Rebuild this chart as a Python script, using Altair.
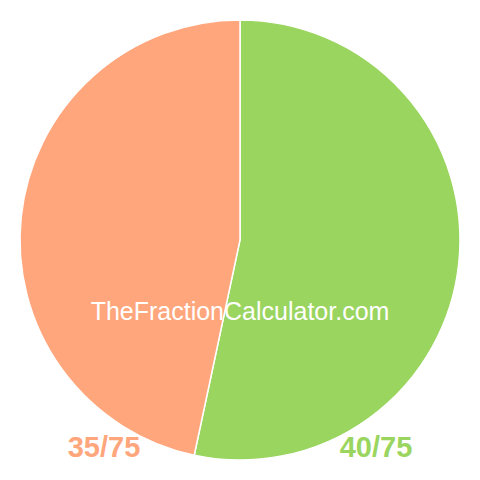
import altair as alt
import pandas as pd

labels = ["40/75", "35/75"]
values = [40, 35]
colors = ["#9AD560", "#FFA67C"]
order = [1, 2]

df = pd.DataFrame({"label": labels, "value": values, "order": order})

pie = alt.Chart(df).mark_arc(outerRadius=220, stroke="white", strokeWidth=1.5).encode(
    theta=alt.Theta("value:Q", stack=True),
    order=alt.Order("order:Q"),
    color=alt.Color("label:N", scale=alt.Scale(domain=labels, range=colors), legend=None),
)

wm = alt.Chart(pd.DataFrame({"t": ["TheFractionCalculator.com"]})).mark_text(
    font="Liberation Sans", fontSize=25, color="white", align="center", baseline="alphabetic"
).encode(text="t:N", x=alt.value(232), y=alt.value(312))

lab_df = pd.DataFrame({"label": labels, "px": [368, 96]})
labs = alt.Chart(lab_df).mark_text(
    font="Liberation Sans", fontSize=29, fontWeight="bold", align="center", baseline="alphabetic"
).encode(
    text="label:N",
    x=alt.X("px:Q", scale=None),
    y=alt.value(449),
    color=alt.Color("label:N", scale=alt.Scale(domain=labels, range=colors), legend=None),
)

chart = alt.layer(pie, wm, labs).properties(
    width=464, height=464, padding=0, autosize="none"
).configure_view(stroke=None)

chart.save("out.html", embed_options={"renderer": "svg", "actions": False})
